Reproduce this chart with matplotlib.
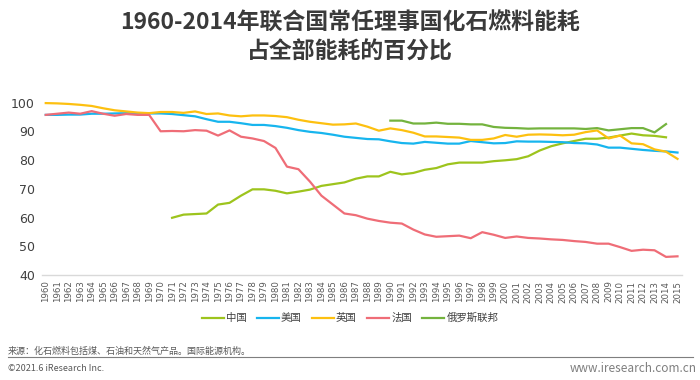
import numpy as np
import matplotlib
matplotlib.use("Agg")
import matplotlib.pyplot as plt

plt.rcParams['font.family'] = ['Noto Sans CJK SC', 'DejaVu Sans']

years = list(range(1960, 2016))

# 中国 1971-2014
china_years = list(range(1971, 2015))
china = [59.9, 61.0, 61.2, 61.4, 64.5, 65.1, 67.6, 69.8, 69.8, 69.3,
         68.4, 69.0, 69.7, 71.0, 71.6, 72.2, 73.5, 74.3, 74.3, 75.9,
         75.0, 75.5, 76.6, 77.2, 78.5, 79.1, 79.1, 79.1, 79.6, 79.9,
         80.3, 81.3, 83.3, 84.8, 85.8, 86.6, 87.4, 87.4, 87.8, 88.5,
         89.2, 88.6, 88.4, 87.9]

# 美国 1960-2015
usa = [95.7, 95.7, 95.8, 95.8, 96.1, 96.1, 96.2, 96.3, 96.3, 96.2,
       96.2, 96.0, 95.6, 95.2, 94.2, 93.3, 93.3, 92.8, 92.2, 92.2,
       91.8, 91.2, 90.4, 89.8, 89.4, 88.8, 88.1, 87.7, 87.3, 87.2,
       86.5, 85.9, 85.7, 86.3, 86.0, 85.7, 85.7, 86.6, 86.2, 85.8,
       85.9, 86.5, 86.4, 86.4, 86.3, 86.2, 85.9, 85.8, 85.4, 84.3,
       84.3, 83.9, 83.5, 83.2, 83.0, 82.6]

# 英国 1960-2015
uk = [99.8, 99.7, 99.5, 99.2, 98.8, 98.0, 97.3, 96.9, 96.5, 96.3,
      96.7, 96.7, 96.4, 96.9, 96.0, 96.2, 95.5, 95.2, 95.5, 95.5,
      95.3, 94.9, 94.0, 93.3, 92.8, 92.3, 92.4, 92.7, 91.6, 90.2,
      91.0, 90.4, 89.5, 88.2, 88.2, 88.0, 87.8, 87.0, 87.0, 87.5,
      88.7, 88.1, 88.8, 88.9, 88.8, 88.6, 88.8, 89.7, 90.3, 87.5,
      88.5, 85.8, 85.5, 83.7, 82.9, 80.4]

# 法国 1960-2015
france = [95.7, 96.1, 96.5, 96.1, 97.0, 96.1, 95.4, 96.0, 95.7, 95.7,
          90.0, 90.1, 90.0, 90.4, 90.2, 88.5, 90.3, 88.1, 87.5, 86.6,
          84.2, 77.7, 76.8, 72.5, 67.6, 64.5, 61.4, 60.8, 59.6, 58.8,
          58.2, 57.9, 55.8, 54.1, 53.3, 53.5, 53.7, 52.8, 54.9, 54.0,
          52.9, 53.4, 52.9, 52.7, 52.4, 52.2, 51.8, 51.5, 50.9, 50.9,
          49.7, 48.4, 48.8, 48.6, 46.3, 46.5]

# 俄罗斯联邦 1990-2014
russia_years = list(range(1990, 2015))
russia = [93.7, 93.7, 92.7, 92.7, 93.0, 92.6, 92.6, 92.4, 92.4, 91.5,
          91.2, 91.1, 90.9, 91.0, 91.0, 91.0, 91.0, 90.8, 91.1, 90.3,
          90.7, 91.1, 91.1, 89.6, 92.5]

fig = plt.figure(figsize=(7, 3.8), dpi=100)
ax = fig.add_axes([0.0596, 0.2763, 0.914, 0.4577])

ax.plot(china_years, china, color='#9dc41d', lw=1.6, label='中国')
ax.plot(years, usa, color='#17b5ee', lw=1.6, label='美国')
ax.plot(years, uk, color='#fdc010', lw=1.6, label='英国')
ax.plot(years, france, color='#ef6d77', lw=1.6, label='法国')
ax.plot(russia_years, russia, color='#74b33e', lw=1.6, label='俄罗斯联邦')

ax.set_xlim(1959.65, 2015.35)
ax.set_ylim(40, 100.5)
ax.set_yticks(range(40, 101, 10))
ax.set_xticks(years)
ax.set_xticklabels([str(y) for y in years], rotation=90, fontsize=6.2,
                   color='#595959', family='DejaVu Sans')
for t in ax.get_yticklabels():
    t.set_fontsize(9)
    t.set_color('#404040')
    t.set_family('DejaVu Sans')
ax.tick_params(axis='both', length=0)
ax.tick_params(axis='x', pad=4)
ax.tick_params(axis='y', pad=5)
for s in ['top', 'right', 'left']:
    ax.spines[s].set_visible(False)
ax.spines['bottom'].set_color('#d9d9d9')
ax.spines['bottom'].set_linewidth(1)

leg = fig.legend(loc='center', bbox_to_anchor=(0.5, 0.163), ncol=5,
                 frameon=False, fontsize=7.5, handlelength=2.1,
                 handletextpad=0.2, columnspacing=1.0)
for t in leg.get_texts():
    t.set_color('#404040')

fig.text(0.5, 0.94, '1960-2014年联合国常任理事国化石燃料能耗', ha='center',
         va='center', fontsize=16.5, fontweight='bold', color='#3a3a3a')
fig.text(0.5, 0.862, '占全部能耗的百分比', ha='center', va='center',
         fontsize=16.5, fontweight='bold', color='#3a3a3a')

fig.text(0.011, 0.076, '来源：化石燃料包括煤、石油和天然气产品。国际能源机构。',
         ha='left', va='center', fontsize=6.5, color='#595959')
fig.add_artist(plt.Line2D([0.011, 0.99], [0.06, 0.06], color='#7f7f7f', lw=0.8))
fig.text(0.011, 0.031, '©2021.6 iResearch Inc.', ha='left', va='center',
         fontsize=6.5, color='#595959')
fig.text(0.995, 0.031, 'www.iresearch.com.cn', ha='right', va='center',
         fontsize=8.5, color='#7f7f7f')

fig.savefig('out.png', dpi=100, facecolor='white')
